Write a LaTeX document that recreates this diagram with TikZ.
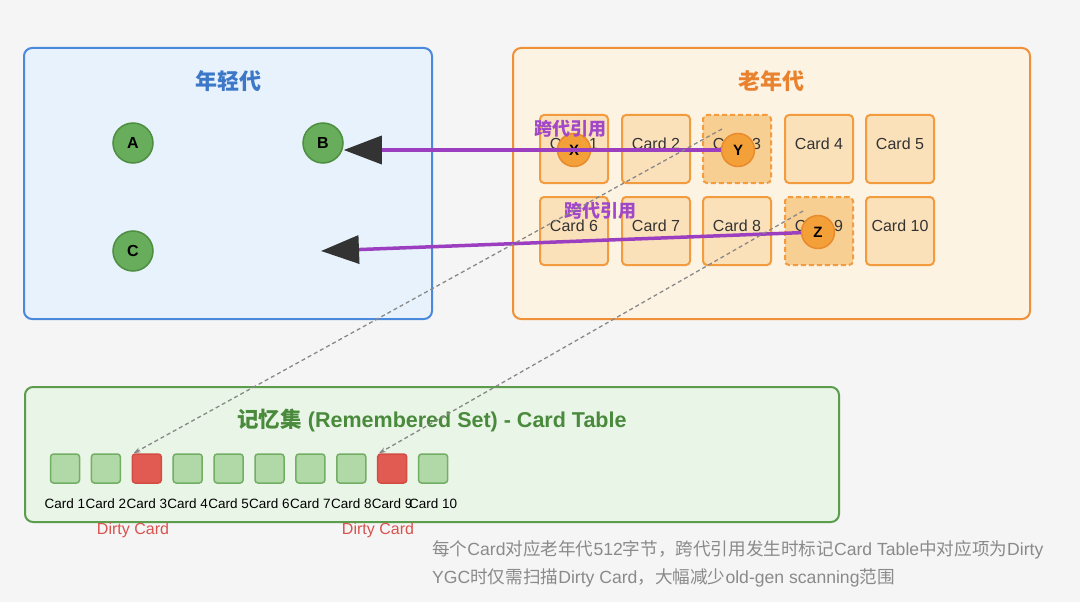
\documentclass[tikz,border=0pt]{standalone}
\usepackage{fontspec}
\setmainfont{Liberation Sans}
\newfontfamily\cjk{Noto Sans CJK SC}
\usepackage{tikz}
\usetikzlibrary{arrows.meta, positioning}
\definecolor{bgpage}{HTML}{F5F5F5}
\definecolor{youngfill}{HTML}{E7F2FC}
\definecolor{youngline}{HTML}{4A89DC}
\definecolor{youngtitle}{HTML}{3D78C8}
\definecolor{oldfill}{HTML}{FDF3E3}
\definecolor{oldline}{HTML}{F0913A}
\definecolor{oldtitle}{HTML}{E8822E}
\definecolor{cardfill}{HTML}{FBE1BA}
\definecolor{cardline}{HTML}{F29B3F}
\definecolor{dirtyfill}{HTML}{F8CF93}
\definecolor{objfill}{HTML}{F4A038}
\definecolor{objline}{HTML}{E88A2E}
\definecolor{nodefill}{HTML}{68AD5B}
\definecolor{nodeline}{HTML}{4E8E40}
\definecolor{refpurple}{HTML}{9B3FC0}
\definecolor{reftext}{HTML}{A048C8}
\definecolor{arrowdark}{HTML}{333333}
\definecolor{rsetfill}{HTML}{E9F5E7}
\definecolor{rsetline}{HTML}{5C9C4D}
\definecolor{rsettitle}{HTML}{4A8A3C}
\definecolor{cellfill}{HTML}{B0D9A7}
\definecolor{cellline}{HTML}{72AE64}
\definecolor{cellred}{HTML}{E15B52}
\definecolor{cellredline}{HTML}{D24C43}
\definecolor{dirtytext}{HTML}{D9534F}
\definecolor{notetext}{HTML}{8A8A8A}
\definecolor{dashgray}{HTML}{888888}
\newcommand{\zh}[1]{{\cjk #1}}

\begin{document}
\begin{tikzpicture}[x=1pt, y=-1pt,
            region/.style={draw, line width=2pt, rounded corners=8pt, inner sep=0pt},
            regiontitle/.style={font=\bfseries\fontsize{22}{26}\selectfont},
            gnode/.style={circle, draw=nodeline, line width=1.5pt, fill=nodefill, minimum size=40pt, inner sep=0pt, font=\bfseries\fontsize{16}{19}\selectfont},
            card/.style={draw=cardline, fill=cardfill, line width=2pt, rounded corners=4pt, minimum size=68pt, inner sep=0pt},
            dirtycard/.style={card, fill=dirtyfill, dash pattern=on 5pt off 3pt},
            cardtext/.style={font=\fontsize{16}{19}\selectfont, text=black!80, yshift=5pt},
            obj/.style={circle, draw=objline, line width=1.5pt, fill=objfill, minimum size=33pt, inner sep=0pt, font=\bfseries\fontsize{15}{18}\selectfont},
            reflabel/.style={text=reftext, font=\bfseries\fontsize{18}{21}\selectfont},
            refline/.style={refpurple, line width=3.5pt, -{Triangle[length=38pt, width=28pt, color=arrowdark]}},
            markline/.style={dashgray, line width=1.3pt, dash pattern=on 4pt off 3pt, -{Stealth[length=7pt, width=5pt]}},
            mclean/.style={draw=cellline, fill=cellfill, line width=1.5pt, rounded corners=3pt, minimum size=29pt, inner sep=0pt},
            mdirty/.style={mclean, draw=cellredline, fill=cellred},
            smalltext/.style={font=\fontsize{13.5}{15}\selectfont},
            dirtylabel/.style={text=dirtytext, font=\fontsize{16}{19}\selectfont},
            note/.style={text=notetext, anchor=west, inner sep=0pt, font=\fontsize{17.6}{21}\selectfont}]
            \fill[bgpage] (0,0) rectangle (1080,602);
            \useasboundingbox (0,0) rectangle (1080,602);
            % young generation
            \node[region, draw=youngline, fill=youngfill, minimum width=408pt, minimum height=271pt] (young) at (228,183.5) {};
            \node[regiontitle, text=youngtitle] (youngtitle) at (228,81) {\zh{年轻代}};
            \node[gnode] (A) at (133,143) {A};
            \node[gnode] (B) at (323,143) {B};
            \node[gnode] (C) at (133,251) {C};
            % old generation
            \node[region, draw=oldline, fill=oldfill, minimum width=517pt, minimum height=271pt] (old) at (771.5,183.5) {};
            \node[regiontitle, text=oldtitle] (oldtitle) at (771,81) {\zh{老年代}};
            \foreach \n/\cx/\cy in {1/574/149, 2/656/149, 4/819/149, 5/900/149,
                                   6/574/231, 7/656/231, 8/737/231, 10/900/231} {
                \node[card, label={[cardtext]center:Card \n}] (card\n) at (\cx,\cy) {};
            }
            \foreach \n/\cx/\cy in {3/737/149, 9/819/231} {
                \node[dirtycard, label={[cardtext]center:Card \n}] (card\n) at (\cx,\cy) {};
            }
            \node[obj] (X) at (574,150) {X};
            % remembered set
            \node[region, draw=rsetline, fill=rsetfill, minimum width=814pt, minimum height=135pt] (rset) at (432,454.5) {};
            \node[text=rsettitle, font=\bfseries\fontsize{21.5}{25}\selectfont] (rsettitle) at (432,420)
                {\zh{记忆集} (Remembered Set) - Card Table};
            \foreach \n/\sty in {1/mclean, 2/mclean, 3/mdirty, 4/mclean, 5/mclean,
                                 6/mclean, 7/mclean, 8/mclean, 9/mdirty, 10/mclean} {
                \pgfmathsetmacro{\mx}{65+40.9*(\n-1)}
                \node[\sty] (m\n) at (\mx,468.5) {};
                \node[smalltext] (ml\n) at (\mx,504) {Card \n};
            }
            \node[dirtylabel] (dl3) at (133,530) {Dirty Card};
            \node[dirtylabel] (dl9) at (378,530) {Dirty Card};
            % cross-generation references
            \node[obj] (Y) at (738,150) {Y};
            \node[obj] (Z) at (818,232) {Z};
            \coordinate (cref) at (321,251);
            \draw[refline] (Y.west) -- (Y -| B.east);
            \draw[refline] (Z) -- (cref);
            \node[reflabel] (ref1) at (570,129) {\zh{跨代引用}};
            \node[reflabel] (ref2) at (600,211) {\zh{跨代引用}};
            % card marking
            \coordinate (d3) at (722,129);
            \coordinate (d9) at (803,211);
            \draw[markline] (d3) -- ([xshift=2pt]m3.north west);
            \draw[markline] (d9) -- ([xshift=2pt]m9.north west);
            % note
            \node[note] (note1) at (432,550) {\zh{每个}Card\zh{对应老年代}512\zh{字节，跨代引用发生时标记}Card Table\zh{中对应项为}Dirty};
            \node[note] (note2) at (432,578) {YGC\zh{时仅需扫描}Dirty Card\zh{，大幅减少}old-gen scanning\zh{范围}};
        \end{tikzpicture}
\end{document}
